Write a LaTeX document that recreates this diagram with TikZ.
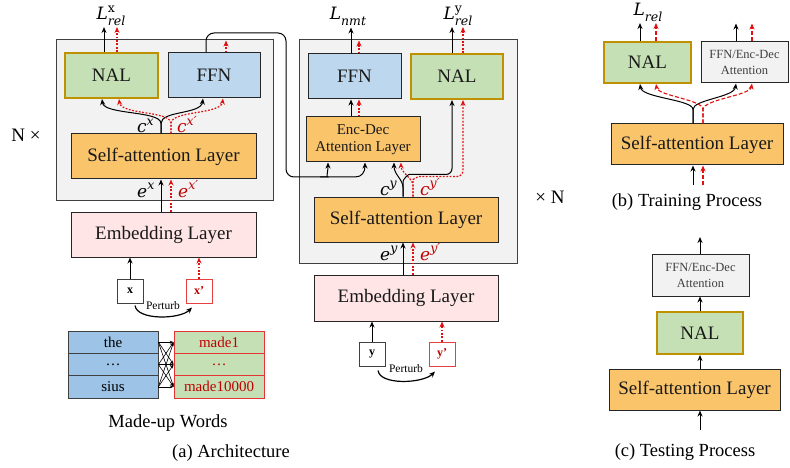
\documentclass[tikz,border=0pt]{standalone}
\usepackage{fontspec}
\setmainfont{Liberation Serif}
\newfontfamily\symfont{DejaVu Serif}
\usetikzlibrary{arrows.meta,calc}
\definecolor{panelgray}{HTML}{F2F2F2}
\definecolor{edgegray}{HTML}{404040}
\definecolor{nalfill}{HTML}{C5E0B4}
\definecolor{naledge}{HTML}{BF9000}
\definecolor{ffnfill}{HTML}{BDD7EE}
\definecolor{safill}{HTML}{FAC46B}
\definecolor{embfill}{HTML}{FFE5E5}
\definecolor{wordblue}{HTML}{9DC3E6}
\definecolor{pertred}{HTML}{C00000}
\definecolor{flowred}{HTML}{E01010}
\newcommand\setfs[1]{\fontsize{#1}{#1}\selectfont}
% loss symbol: L with optional upright superscript and italic subscript
\newcommand\losssym[2]{{\symfont\itshape L\rlap{\raisebox{0.42em}{\setfs{12.5}\upshape #1}}\raisebox{-0.3em}{\setfs{12.5}#2}}}
% hidden-state symbol: italic letter with italic superscript
\newcommand\statesym[2]{{\symfont\itshape #1\raisebox{0.42em}{\setfs{12.5}#2}}}
\tikzset{
  panel/.style={draw=edgegray, fill=panelgray, line width=0.8pt},
  blk/.style={draw=black!85, line width=1pt, text=black!90, inner sep=0pt},
  nal/.style={blk, draw=naledge, line width=2pt, fill=nalfill, font=\setfs{19}},
  ffn/.style={blk, fill=ffnfill, font=\setfs{19}},
  sal/.style={blk, fill=safill, font=\setfs{19}},
  emb/.style={blk, fill=embfill, font=\setfs{19}},
  gen/.style={blk, fill=panelgray, text=edgegray, align=center, font=\fontsize{12.5}{16}\selectfont},
  tok/.style={draw=edgegray, line width=1pt, fill=white, inner sep=0pt,
    minimum width=26pt, minimum height=24pt, font=\bfseries\setfs{12}},
  rtok/.style={tok, draw=flowred!80, text=pertred},
  word/.style={draw=edgegray, line width=0.8pt, fill=wordblue, inner sep=0pt,
    minimum width=90pt, minimum height=22.33pt, font=\setfs{15}},
  fake/.style={draw=flowred!85, line width=0.8pt, fill=nalfill, text=pertred, inner sep=0pt,
    minimum width=90pt, minimum height=22.33pt, font=\setfs{15}},
  arr/.style={-{Stealth[length=6pt,width=5pt]}, line width=1pt, black},
  rdot/.style={-{Stealth[length=6pt,width=5pt]}, line width=1.2pt, flowred, dash pattern=on 1.8pt off 1.6pt},
  rdash/.style={-{Stealth[length=6pt,width=5pt]}, line width=1.1pt, flowred, dash pattern=on 4pt off 2pt},
  thin arr/.style={-{Stealth[length=4pt,width=3pt]}, line width=0.6pt, black},
  lab/.style={font=\setfs{19}, inner sep=0pt},
  loss/.style={font=\setfs{17}, inner sep=0pt, anchor=base},
  state/.style={font=\setfs{17}, inner sep=0pt, anchor=base west},
  captext/.style={font=\setfs{18.5}, inner sep=0pt},
  pert/.style={font=\setfs{11.5}, inner sep=0pt},
}
\begin{document}
\begin{tikzpicture}[x=1pt, y=-1pt]
\useasboundingbox (0,0) rectangle (790,468);

% ===================== (a) encoder side =====================
\node[panel, minimum width=217pt, minimum height=161pt] (gA) at (164.5,119.5) {};
\node[nal, minimum width=93pt, minimum height=45pt] (nalA) at (111.5,75.5) {NAL};
\node[ffn, minimum width=92pt, minimum height=45pt] (ffnA) at (214,75.5) {FFN};
\node[sal, minimum width=185pt, minimum height=45pt] (saA) at (163.5,156.5) {Self-attention Layer};
\node[emb, minimum width=185pt, minimum height=45pt] (embA) at (163.5,234.5) {Embedding Layer};
\node[tok] (xA) at (130,291) {x};
\node[rtok] (xpA) at (199,291) {x'};
\node[pert] (pA) at (163,306) {Perturb};

\node[loss] (Lx) at (111,20) {\losssym{x}{rel}};
\node[lab] (Nx) at (26,135) {N ×};
\node[state] (cx) at (137,133) {\statesym{c}{x}};
\node[state, text=pertred] (cxp) at (177,133) {\statesym{c}{x′}};
\node[state] (ex) at (137,197) {\statesym{e}{x}};
\node[state, text=pertred] (exp) at (178,197) {\statesym{e}{x′}};

% inputs
\draw[arr] (xA.north) -- (xA.north |- embA.south);
\draw[rdot] (xpA.north) -- (xpA.north |- embA.south);
\draw[arr, line width=1.2pt] ([shift={(5,2)}]xA.south) .. controls +(2,15) and +(-12,12) .. ([shift={(-7,4)}]xpA.south);

% embedding -> self-attention
\draw[arr] ([xshift=-2.5pt]embA.north) -- ([xshift=-2.5pt]saA.south);
\draw[rdot] ([xshift=7.5pt]embA.north) -- ([xshift=7.5pt]saA.south);

% self-attention -> NAL / FFN
\draw[arr] ([xshift=-2.5pt]saA.north) -- ++(0,-10) .. controls +(0,-13) and +(2,16) .. ([xshift=-9.5pt]nalA.south);
\draw[arr] ([xshift=-2.5pt]saA.north) -- ++(0,-10) .. controls +(0,-13) and +(-2,16) .. ([xshift=-11pt]ffnA.south);
\draw[rdot] ([xshift=7.5pt]saA.north) -- ++(0,-10) .. controls +(0,-13) and +(2,16) .. ([xshift=7.5pt]nalA.south);
\draw[rdot] ([xshift=7.5pt]saA.north) -- ++(0,-10) .. controls +(0,-13) and +(-2,16) .. ([xshift=9pt]ffnA.south);

% outputs
\draw[arr] ([xshift=-7.5pt]nalA.north) -- ++(0,-25);
\draw[rdot] ([xshift=5.5pt]nalA.north) -- ++(0,-25);
\draw[rdot] ([xshift=12pt]ffnA.north) -- ++(0,-12);

% made-up words table
\node[word] (w1) at (113,342.2) {the};
\node[word] (w2) at (113,364.5) {\dots};
\node[word] (w3) at (113,386.8) {sius};
\node[fake] (m1) at (219,342.2) {made1};
\node[fake] (m2) at (219,364.5) {\dots};
\node[fake] (m3) at (219,386.8) {made10000};
\foreach \i in {1,2,3}
  \foreach \j in {1,2,3}
    \draw[thin arr] (w\i.east) -- (m\j.west);

\node[captext] (capMW) at (168,423) {Made-up Words};
\node[captext] (capA) at (231,453) {(a) Architecture};

% ===================== (a) decoder side =====================
\node[panel, minimum width=218pt, minimum height=224pt] (gB) at (408,151) {};
\node[ffn, minimum width=93pt, minimum height=45pt] (ffnB) at (354.5,76.5) {FFN};
\node[nal, minimum width=92pt, minimum height=45pt] (nalB) at (457,76.5) {NAL};
\node[sal, minimum width=114pt, minimum height=45pt, align=center,
      font=\fontsize{15}{17.5}\selectfont] (edB) at (363,139.5) {Enc-Dec\\Attention Layer};
\node[sal, minimum width=184pt, minimum height=45pt] (saB) at (406,219.5) {Self-attention Layer};
\node[emb, minimum width=184pt, minimum height=46pt] (embB) at (406,298) {Embedding Layer};
\node[tok] (yB) at (372,354) {y};
\node[rtok] (ypB) at (442,354) {y'};
\node[pert] (pB) at (406,369) {Perturb};

\node[loss] (Lnmt) at (348,20) {\losssym{}{nmt}};
\node[loss] (Ly) at (458,20) {\losssym{y}{rel}};
\node[lab] (Ny) at (550,197) {× N};
\node[state] (cy) at (380,195) {\statesym{c}{y}};
\node[state, text=pertred] (cyp) at (420,195) {\statesym{c}{y′}};
\node[state] (ey) at (380,260) {\statesym{e}{y}};
\node[state, text=pertred] (eyp) at (420,260) {\statesym{e}{y′}};

% inputs
\draw[arr] (yB.north) -- (yB.north |- embB.south);
\draw[rdot] (ypB.north) -- (ypB.north |- embB.south);
\draw[arr, line width=1.2pt] ([shift={(6,4)}]yB.south) .. controls +(2,15) and +(-12,12) .. ([shift={(-7,5)}]ypB.south);

% embedding -> self-attention
\draw[arr] ([xshift=-3pt]embB.north) -- ([xshift=-3pt]saB.south);
\draw[rdot] ([xshift=7pt]embB.north) -- ([xshift=7pt]saB.south);

% self-attention -> Enc-Dec attention / NAL
\draw[arr] ([xshift=-3pt]saB.north) -- ++(0,-9) .. controls +(0,-8) and +(0,12) .. ([xshift=31pt]edB.south);
\draw[arr, rounded corners=6pt] ([xshift=-3pt]saB.north) -- ++(0,-9) .. controls +(0,-8) and +(-7,0) .. ++(12,-13) -| ([xshift=-5pt]nalB.south);
\draw[rdot] ([xshift=7pt]saB.north) -- ++(0,-11) .. controls +(0,-7) and +(0,10) .. ([xshift=38pt]edB.south);
\draw[rdot, rounded corners=6pt] ([xshift=7pt]saB.north) -- ++(0,-11) .. controls +(0,-6) and +(-7,0) .. ++(12,-9) -| ([xshift=6pt]nalB.south);

% Enc-Dec attention -> FFN
\draw[arr] ([xshift=-12pt]edB.north) -- ([xshift=-3.5pt]ffnB.south);
\draw[rdot] ([xshift=-4pt]edB.north) -- ([xshift=4.5pt]ffnB.south);

% outputs
\draw[arr] ([xshift=-3.5pt]ffnB.north) -- ++(0,-26);
\draw[rdot] ([xshift=4.5pt]ffnB.north) -- ++(0,-13);
\draw[arr] ([xshift=-5pt]nalB.north) -- ++(0,-26);
\draw[rdot] ([xshift=6pt]nalB.north) -- ++(0,-26);

% encoder FFN output feeding the Enc-Dec attention
\coordinate (bend) at (286,177);
\draw[arr, rounded corners=8pt] ([xshift=-8pt]ffnA.north) |- (286,33) -- (bend) -- (320,177)
  .. controls (326,177) and (328,172) .. ([xshift=-35pt]edB.south);
\draw[arr] (320,177) -- (355,177) .. controls (362,177) and (365,172) .. ([xshift=2pt]edB.south);

% ===================== (b) training =====================
\node[nal, minimum width=87pt, minimum height=41pt] (nalC) at (647.5,62.5) {NAL};
\node[gen, minimum width=87pt, minimum height=41pt] (genC) at (744.5,62.5) {FFN/Enc-Dec\\Attention};
\node[sal, minimum width=172pt, minimum height=41pt] (saC) at (697,144.5) {Self-attention Layer};
\node[loss] (Lc) at (648,16) {\losssym{}{rel}};
\coordinate (inC) at (693,185);
\coordinate (inCr) at (703,185);

\draw[arr] (inC) -- (inC |- saC.south);
\draw[rdash] (inCr) -- (inCr |- saC.south);
\draw[arr] ([xshift=-4pt]saC.north) -- ++(0,-14) .. controls +(0,-10) and +(2,14) .. ([xshift=-7.5pt]nalC.south);
\draw[arr] ([xshift=-4pt]saC.north) -- ++(0,-14) .. controls +(0,-10) and +(-2,14) .. ([xshift=-8.5pt]genC.south);
\draw[rdash] ([xshift=6pt]saC.north) -- ++(0,-14) .. controls +(0,-10) and +(2,12) .. ([xshift=8.5pt]nalC.south);
\draw[rdash] ([xshift=6pt]saC.north) -- ++(0,-14) .. controls +(0,-10) and +(-2,12) .. ([xshift=7.5pt]genC.south);
\draw[arr] ([xshift=-7.5pt]nalC.north) -- ++(0,-18);
\draw[rdash] ([xshift=8.5pt]nalC.north) -- ++(0,-18);
\draw[arr] ([xshift=-8.5pt]genC.north) -- ++(0,-18);
\draw[rdash] ([xshift=7.5pt]genC.north) -- ++(0,-18);
\node[captext] (capB) at (687,202) {(b) Training Process};

% ===================== (c) testing =====================
\node[gen, minimum width=97pt, minimum height=42pt] (genD) at (700.5,275) {FFN/Enc-Dec\\Attention};
\node[nal, minimum width=86pt, minimum height=42pt] (nalD) at (700,333) {NAL};
\node[sal, minimum width=171pt, minimum height=41pt] (saD) at (694.5,389.5) {Self-attention Layer};
\coordinate (inD) at (700,430);
\coordinate (outD) at (700,237);
\draw[arr] (inD) -- (inD |- saD.south);
\draw[arr] (nalD.south |- saD.north) -- (nalD.south);
\draw[arr] (nalD.north) -- (nalD.north |- genD.south);
\draw[arr] (outD |- genD.north) -- (outD);
\node[captext] (capC) at (685,452) {(c) Testing Process};
\end{tikzpicture}
\end{document}
